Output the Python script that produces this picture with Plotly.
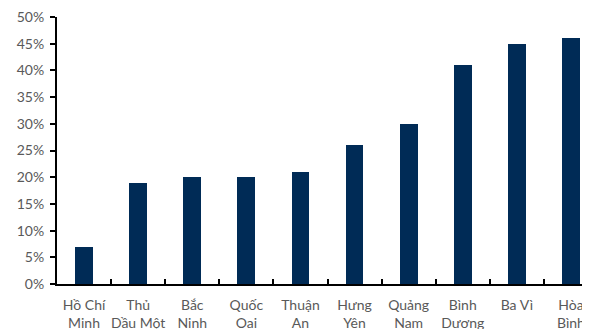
import plotly.graph_objects as go

categories = ["Hồ Chí<br>Minh", "Thủ<br>Dầu Một", "Bắc<br>Ninh", "Quốc<br>Oai", "Thuận<br>An",
              "Hưng<br>Yên", "Quảng<br>Nam", "Bình<br>Dương", "Ba Vì", "Hòa<br>Bình"]
values = [7, 19, 20, 20, 21, 26, 30, 41, 45, 46]
tick_vals = [0, 5, 10, 15, 20, 25, 30, 35, 40, 45, 50]
tick_text = [f"{v}%" for v in tick_vals]

fig = go.Figure(go.Bar(x=categories, y=values, marker_color="#002b56", width=0.33,
                       marker_line_width=0))

fig.update_layout(
    width=590, height=329,
    margin=dict(l=49, r=0, t=9, b=53, autoexpand=False),
    plot_bgcolor="white", paper_bgcolor="white",
    font=dict(family="Lato", size=14, color="#595959"),
    showlegend=False,
    bargap=0,
)
fig.update_xaxes(range=[-0.5, 9.5], showline=True, linecolor="black", linewidth=2,
                 ticks="inside", tickson="boundaries", ticklen=5, tickwidth=1.5, tickcolor="black",
                 showgrid=False, tickangle=0, automargin=False, ticklabelstandoff=7,
                 ticklabeloverflow="allow",
                 tickfont=dict(family="Lato", size=14, color="#595959"))
fig.update_yaxes(range=[0, 50], tickvals=tick_vals, ticktext=tick_text, showline=True,
                 linecolor="black", linewidth=2, ticks="outside", ticklen=5, tickwidth=2,
                 tickcolor="black", showgrid=False, zeroline=False, automargin=False,
                 ticklabelstandoff=3, ticklabeloverflow="allow",
                 tickfont=dict(family="Lato", size=14, color="#595959"))

fig.write_html("out.html")
